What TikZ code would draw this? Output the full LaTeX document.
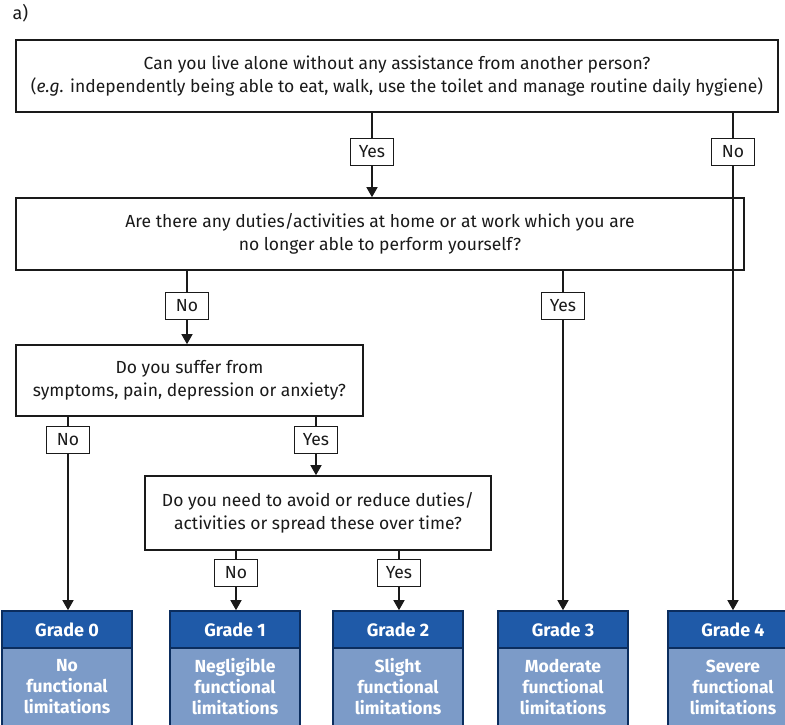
\documentclass[tikz,border=0pt]{standalone}
\usepackage{fontspec}
\setmainfont{Fira Sans}
\usetikzlibrary{arrows.meta}
\definecolor{gradehead}{HTML}{1F5AA8}
\definecolor{gradebody}{HTML}{7C9BC8}
\definecolor{gradeline}{HTML}{0B2D5E}
\definecolor{ink}{HTML}{1A1A1A}
\tikzset{
  qbox/.style={draw=ink, line width=1.6pt, fill=white, align=center, inner sep=0pt,
    font=\fontsize{17.5}{23}\selectfont, text=ink},
  lbl/.style={draw=ink, line width=1.4pt, fill=white, minimum width=43pt, minimum height=27pt,
    inner sep=0pt, font=\fontsize{17.5}{20}\selectfont, text=ink},
  link/.style={draw=ink, line width=1.4pt},
  arr/.style={link, -{Triangle[width=11pt,length=10pt]}},
  ghead/.style={draw=gradeline, line width=1.6pt, fill=gradehead, minimum width=130pt,
    minimum height=37pt, inner sep=0pt, text=white, font=\fontsize{18}{20}\selectfont\bfseries},
  gbody/.style={draw=gradeline, line width=1.6pt, fill=gradebody, minimum width=130pt,
    minimum height=78pt, inner sep=0pt, text=white, align=center,
    font=\fontsize{17.5}{21}\selectfont\bfseries}
}
\begin{document}
\begin{tikzpicture}[x=1pt,y=-1pt]
\useasboundingbox (0,0) rectangle (785,725);
\clip (0,0) rectangle (785,725);

\node[anchor=west, font=\fontsize{18}{20}\selectfont, text=ink] (tag) at (9,13) {a)};

% questions
\node[qbox, minimum width=762pt, minimum height=72pt] (q1) at (397,76)
  {Can you live alone without any assistance from another person?\\
   (\textit{e.g.} independently being able to eat, walk, use the toilet and manage routine daily hygiene)};
\node[qbox, minimum width=728pt, minimum height=72pt] (q2) at (380,234)
  {Are there any duties/activities at home or at work which you are\\
   no longer able to perform yourself?};
\node[qbox, minimum width=347pt, minimum height=71pt] (q3) at (189.5,380.5)
  {Do you suffer from\\ symptoms, pain, depression or anxiety?};
\node[qbox, minimum width=346pt, minimum height=74pt] (q4) at (318,513)
  {Do you need to avoid or reduce duties/\\ activities or spread these over time?};

% answer tags
\node[lbl] (a1) at (372,152) {Yes};
\node[lbl] (b1) at (733,152) {No};
\node[lbl] (a2) at (187,306) {No};
\node[lbl] (b2) at (563,306) {Yes};
\node[lbl] (a3) at (68,440) {No};
\node[lbl] (b3) at (316,440) {Yes};
\node[lbl] (a4) at (236,573) {No};
\node[lbl] (b4) at (399,573) {Yes};

% grades
\foreach \g/\cx/\txt in {0/67/{No\\functional\\limitations},
                         1/235/{Negligible\\functional\\limitations},
                         2/398/{Slight\\functional\\limitations},
                         3/563/{Moderate\\functional\\limitations},
                         4/733/{Severe\\functional\\limitations}}{
  \node[gbody] (gb\g) at (\cx,687) {\txt};
  \node[ghead] (gh\g) at (\cx,629.5) {Grade \g};
}

% connectors
\draw[link] (q1.south -| a1.north) -- (a1.north);
\draw[arr] (a1.south) -- (q2.north -| a1.south);
\draw[link] (q1.south -| b1.north) -- (b1.north);
\draw[arr] (b1.south) -- (gh4.north);

\draw[link] (q2.south -| a2.north) -- (a2.north);
\draw[arr] (a2.south) -- (q3.north -| a2.south);
\draw[link] (q2.south -| b2.north) -- (b2.north);
\draw[arr] (b2.south) -- (gh3.north);

\draw[link] (q3.south -| a3.north) -- (a3.north);
\draw[arr] (a3.south) -- (gh0.north -| a3.south);
\draw[link] (q3.south -| b3.north) -- (b3.north);
\draw[arr] (b3.south) -- (q4.north -| b3.south);

\draw[link] (q4.south -| a4.north) -- (a4.north);
\draw[arr] (a4.south) -- (gh1.north -| a4.south);
\draw[link] (q4.south -| b4.north) -- (b4.north);
\draw[arr] (b4.south) -- (gh2.north -| b4.south);
\end{tikzpicture}
\end{document}
